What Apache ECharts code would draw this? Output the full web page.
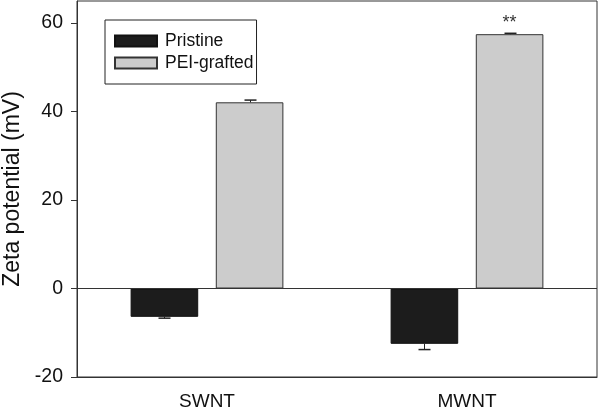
<!DOCTYPE html>
<html>
<head>
<meta charset="utf-8">
<script src="https://cdn.jsdelivr.net/npm/echarts@6/dist/echarts.min.js"></script>
<style>html,body{margin:0;padding:0;background:#fff;}#c{width:600px;height:409px;}</style>
</head>
<body>
<div id="c"></div>
<script>
const categories = ['SWNT', 'MWNT'];
const pristine = [-6.4, -12.5];
const pristineErr = [-0.3, -1.3];
const pei = [42.1, 57.5];
const peiErr = [0.5, 0.2];
const yTicks = [-20, 0, 20, 40, 60];
const seriesNames = ['Pristine', 'PEI-grafted'];
const marks = ['', '**'];

const FONT = '"Liberation Sans", Arial, sans-serif';
const BAR_PCT = 0.26, GAP_PCT = 0.26;

function errRender(sign) {
  return function (params, api) {
    const cat = api.value(0), v = api.value(1), e = api.value(2);
    const bandW = api.size([1, 0])[0];
    const bw = bandW * BAR_PCT;
    const off = sign * (bw + bw * GAP_PCT) / 2;
    const p0 = api.coord([cat, v]);
    const p1 = api.coord([cat, v + e]);
    const x = Math.round(p0[0] + off) + 0.5;
    const capHalf = 6;
    return {
      type: 'group',
      children: [
        {type: 'line', shape: {x1: x, y1: p0[1], x2: x, y2: p1[1]}, style: {stroke: '#222', lineWidth: 1}},
        {type: 'line', shape: {x1: x - capHalf, y1: p1[1], x2: x + capHalf, y2: p1[1]}, style: {stroke: '#222', lineWidth: 1.5}}
      ]
    };
  };
}

const chart = echarts.init(document.getElementById('c'), null, {renderer: 'canvas'});
chart.setOption({
  animation: false,
  backgroundColor: '#fff',
  textStyle: {fontFamily: FONT},
  grid: {left: 77, right: 3, top: 1, bottom: 32, containLabel: false, outerBoundsMode: 'none', show: true, borderColor: '#333', borderWidth: 1, backgroundColor: 'transparent'},
  legend: {
    orient: 'vertical', left: 105, top: 20,
    padding: [12, 3, 12, 9],
    borderColor: '#222', borderWidth: 1,
    itemWidth: 42, itemHeight: 11, itemGap: 4,
    icon: 'rect',
    textStyle: {fontSize: 17.5, color: '#111', fontFamily: FONT, lineHeight: 17, padding: [0, 0, 0, 3]},
    data: seriesNames
  },
  xAxis: {
    type: 'category', data: categories,
    axisLine: {onZero: false, lineStyle: {color: '#333'}},
    axisTick: {alignWithLabel: true, length: 4, lineStyle: {color: '#333'}},
    axisLabel: {fontSize: 19, color: '#111', margin: 15, fontFamily: FONT}
  },
  yAxis: {
    type: 'value', min: -20, max: 65, interval: 20,
    name: 'Zeta potential (mV)', nameLocation: 'middle', nameGap: 52,
    nameTextStyle: {fontSize: 23, color: '#111', fontFamily: FONT},
    axisLine: {show: true, lineStyle: {color: '#333'}},
    axisTick: {show: true, length: 6, lineStyle: {color: '#333'}, customValues: yTicks},
    axisLabel: {fontSize: 19.5, color: '#111', margin: 14, fontFamily: FONT, customValues: yTicks},
    splitLine: {show: false}
  },
  series: [
    {
      name: seriesNames[0], type: 'bar', data: pristine,
      barWidth: (BAR_PCT * 100) + '%', barGap: (GAP_PCT * 100) + '%',
      itemStyle: {color: '#1c1c1c', borderColor: '#111', borderWidth: 1},
      markLine: {silent: true, symbol: 'none', label: {show: false}, lineStyle: {color: '#333', type: 'solid', width: 1}, data: [{yAxis: 0}]}
    },
    {
      name: seriesNames[1], type: 'bar',
      data: pei.map((v, i) => marks[i] ? {value: v, label: {show: true, formatter: marks[i], position: 'top', distance: 2, fontSize: 18, color: '#333', fontFamily: FONT}} : v),
      barWidth: (BAR_PCT * 100) + '%', barGap: (GAP_PCT * 100) + '%',
      itemStyle: {color: '#cccccc', borderColor: '#333', borderWidth: 1}
    },
    {
      type: 'custom', renderItem: errRender(-1), z: 5,
      data: categories.map((c, i) => [i, pristine[i], pristineErr[i]]),
      encode: {x: 0, y: 1}
    },
    {
      type: 'custom', renderItem: errRender(1), z: 5,
      data: categories.map((c, i) => [i, pei[i], peiErr[i]]),
      encode: {x: 0, y: 1}
    }
  ]
});
</script>
</body>
</html>
